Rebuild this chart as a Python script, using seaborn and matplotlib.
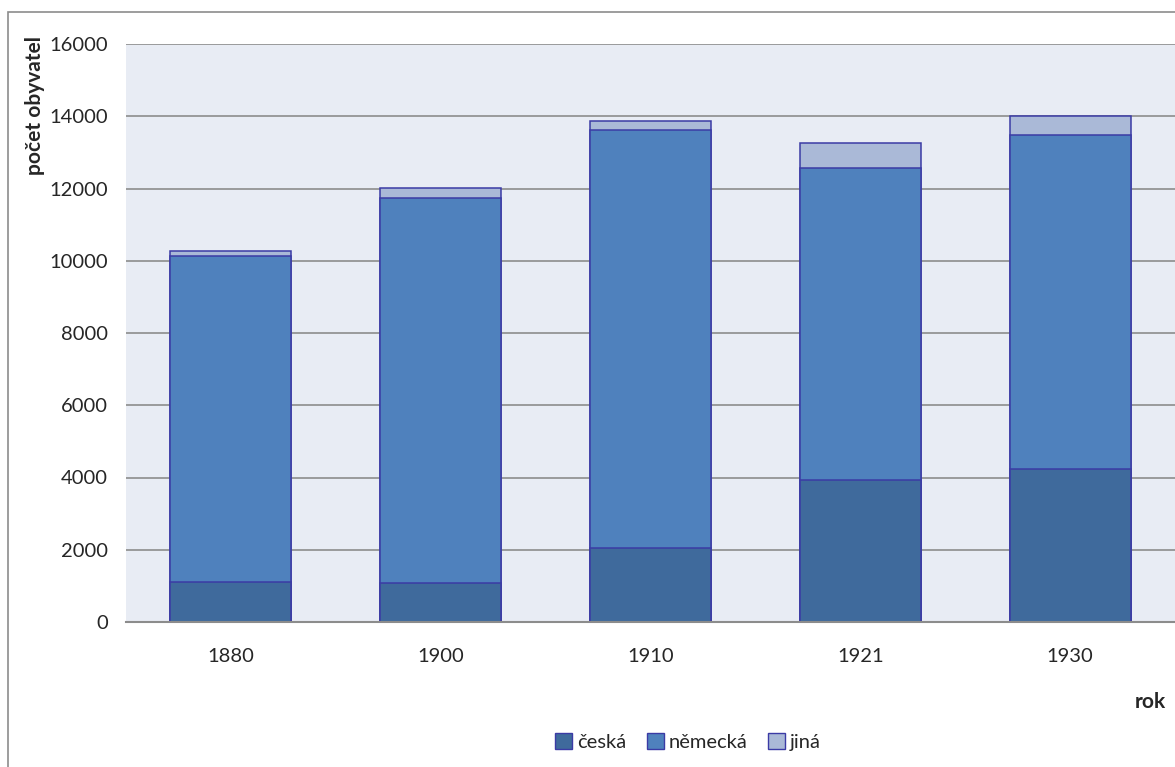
import pandas as pd
import matplotlib
matplotlib.use("Agg")
import matplotlib.pyplot as plt
from matplotlib.patches import Patch, Rectangle
import seaborn as sns

# data
roky = ["1880", "1900", "1910", "1921", "1930"]
ceska = [1107, 1080, 2037, 3920, 4235]
nemecka = [9013, 10657, 11591, 8648, 9235]
jina = [140, 266, 230, 692, 537]

barvy = {"česká": "#3F6A9C", "německá": "#4F81BD", "jiná": "#AAB9D7"}
okraj = "#3B3BA5"

df = pd.DataFrame({"rok": roky, "česká": ceska, "německá": nemecka, "jiná": jina})
df["c_n"] = df["česká"] + df["německá"]
df["celkem"] = df["c_n"] + df["jiná"]

sns.set_theme(style="white")
plt.rcParams["font.family"] = ["Lato", "DejaVu Sans"]

fig = plt.figure(figsize=(11.75, 7.67), dpi=100)
ax = fig.add_axes([126 / 1175, 1 - 622 / 767, 1 - 126 / 1175, (622 - 44) / 767])
ax.set_facecolor("#E8ECF4")

# stacked bars drawn back to front: total, česká+německá, česká
for sloupec, barva in [("celkem", barvy["jiná"]), ("c_n", barvy["německá"]), ("česká", barvy["česká"])]:
    sns.barplot(data=df, x="rok", y=sloupec, color=barva, width=0.576,
                edgecolor=okraj, linewidth=1.1, saturation=1, ax=ax)

ax.set_ylim(0, 16000)
ax.set_xlim(-0.5, 4.5)
ax.set_yticks(range(0, 16001, 2000))
ax.yaxis.grid(True, color="#8C8C8C", linewidth=1.2)
ax.set_axisbelow(True)
for s in ["left", "right", "top"]:
    ax.spines[s].set_visible(False)
ax.spines["bottom"].set_color("#8C8C8C")
ax.spines["bottom"].set_linewidth(1.5)
ax.tick_params(axis="y", length=0, pad=13, labelsize=14.5)
ax.tick_params(axis="x", length=0, pad=19, labelsize=14.5)
ax.set_xlabel("")
ax.set_ylabel("")

fig.text(35 / 1175, 1 - 36 / 767, "počet obyvatel", rotation=90, ha="center", va="top",
         fontsize=15, fontweight="bold")
fig.text(1150 / 1175, 1 - 702 / 767, "rok", ha="center", va="center",
         fontsize=15, fontweight="bold")

handles = [Patch(facecolor=barvy[k], edgecolor=okraj, linewidth=1, label=k) for k in ["česká", "německá", "jiná"]]
fig.legend(handles=handles, loc="center", bbox_to_anchor=(688 / 1175, 1 - 742 / 767), ncol=3,
           frameon=False, fontsize=14.5, handlelength=0.85, handleheight=0.85,
           handletextpad=0.25, columnspacing=1.0)

# outer chart border
fig.add_artist(Rectangle((8 / 1175, -0.05), 1.1, 1 - 12 / 767 + 0.05, transform=fig.transFigure,
                         fill=False, edgecolor="#8C8C8C", linewidth=1.2))

fig.savefig("out.png", dpi=100)
